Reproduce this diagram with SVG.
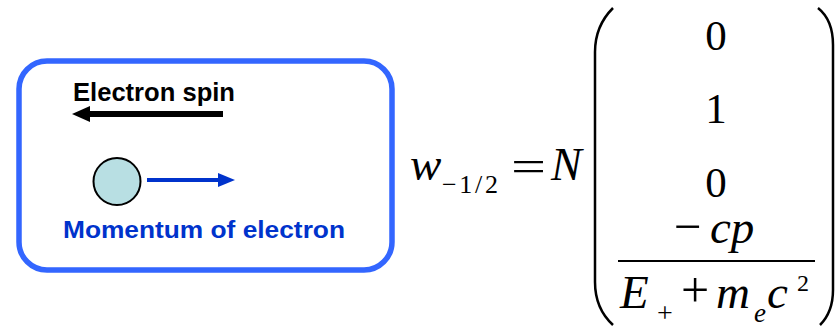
<svg xmlns="http://www.w3.org/2000/svg" width="836" height="327" viewBox="0 0 836 327">
<style>
.lbl{font-family:"Liberation Sans",Arial,sans-serif;font-weight:bold}
.m{font-family:"Liberation Serif","Times New Roman",serif;fill:#000}
.i{font-style:italic}
</style>
<rect width="836" height="327" fill="#fff"/>
<g id="box">
<rect x="19" y="61" width="373" height="209" rx="28" ry="28" fill="#fff" stroke="#3366FF" stroke-width="5.5"/>
</g>
<g id="spin">
<text class="lbl" x="73" y="101" font-size="25" fill="#000" textLength="162" lengthAdjust="spacingAndGlyphs">Electron spin</text>
</g>
<g id="electron">
<circle cx="117" cy="181.5" r="23.5" fill="#B8DFE3" stroke="#000" stroke-width="2"/>
</g>
<g id="momentum">
<text class="lbl" x="63" y="238" font-size="23" fill="#0033CC" textLength="282" lengthAdjust="spacingAndGlyphs">Momentum of electron</text>
</g>
<g id="connectors">
<line x1="223" y1="114" x2="88" y2="114" stroke="#000" stroke-width="6"/>
<path d="M72,114 L90,106 L90,122 Z" fill="#000"/>
<line x1="147" y1="180" x2="220" y2="180" stroke="#0033CC" stroke-width="4"/>
<path d="M235,180 L218,173 L218,187 Z" fill="#0033CC"/>
</g>
<g id="formula" font-family="'Liberation Serif','Times New Roman',serif">
<text class="m i" x="410" y="180" font-size="47">w</text>
<text class="m" x="442" y="193" font-size="26" textLength="56">−1/2</text>
<text class="m" x="0" y="0" font-size="46" transform="translate(511,182) scale(1.35,1)">=</text>
<text class="m i" x="551" y="180" font-size="46">N</text>
<path d="M613,8 C601,20 595,35 595,52 L595,282 C595,300 601,314 613,325" fill="none" stroke="#000" stroke-width="2.5"/>
<path d="M818,8 C828,16 833,28 833,45 L833,290 C833,305 829,316 820,325" fill="none" stroke="#000" stroke-width="2.5"/>
<text class="m" x="716" y="50" font-size="43" text-anchor="middle">0</text>
<text class="m" x="716" y="123" font-size="43" text-anchor="middle">1</text>
<text class="m" x="716" y="197" font-size="43" text-anchor="middle">0</text>
<text class="m" x="674" y="243" font-size="49">−</text>
<text class="m i" x="710" y="243" font-size="47">cp</text>
<line x1="618" y1="261" x2="815" y2="261" stroke="#000" stroke-width="2"/>
<text class="m i" x="620" y="308" font-size="47">E</text>
<text class="m" x="657" y="322" font-size="28">+</text>
<text class="m" x="681" y="307" font-size="50">+</text>
<text class="m i" x="716" y="308" font-size="47">m</text>
<text class="m i" x="754" y="322" font-size="27">e</text>
<text class="m i" x="767" y="308" font-size="47">c</text>
<text class="m" x="797" y="291" font-size="24">2</text>
</g>
</svg>
